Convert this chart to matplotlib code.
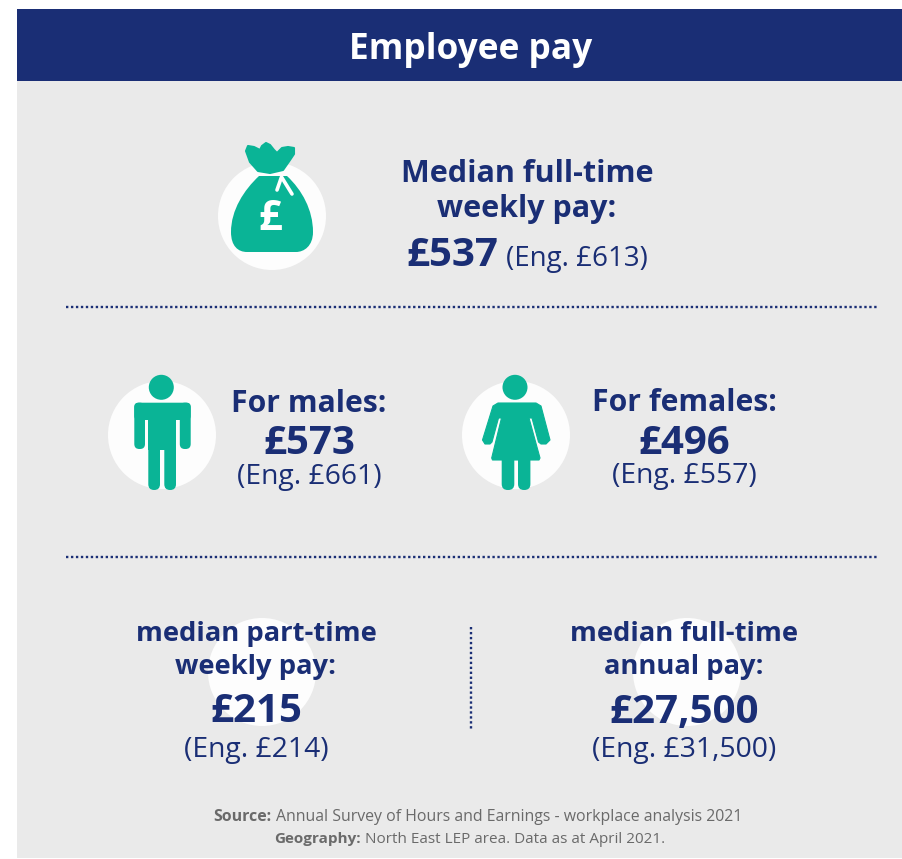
import matplotlib
matplotlib.use('Agg')
import matplotlib.pyplot as plt
from matplotlib.patches import Circle, FancyBboxPatch, PathPatch, Polygon, Rectangle
from matplotlib.path import Path

# text and values
title = 'Employee pay'
main_label = ['Median full-time', 'weekly pay:']
main_value = '£537'
main_eng = '(Eng. £613)'
male_label, male_value, male_eng = 'For males:', '£573', '(Eng. £661)'
female_label, female_value, female_eng = 'For females:', '£496', '(Eng. £557)'
pt_label = ['median part-time', 'weekly pay:']
pt_value, pt_eng = '£215', '(Eng. £214)'
ann_label = ['median full-time', 'annual pay:']
ann_value, ann_eng = '£27,500', '(Eng. £31,500)'
source_bold, source_text = 'Source:', 'Annual Survey of Hours and Earnings - workplace analysis 2021'
geo_bold, geo_text = 'Geography:', 'North East LEP area. Data as at April 2021.'

navy = '#1a2e75'
teal = '#0ab496'
bg = '#eaeaea'
grey = '#6a6a6a'

plt.rcParams['font.family'] = ['Open Sans', 'DejaVu Sans']

fig = plt.figure(figsize=(9.03, 8.59), dpi=100)
ax = fig.add_axes([0, 0, 1, 1])
ax.set_xlim(0, 903)
ax.set_ylim(859, 0)
ax.axis('off')

ax.add_patch(Rectangle((17, 9), 886, 849, fc=bg, ec='none'))
ax.add_patch(Rectangle((17, 9), 886, 72, fc=navy, ec='none'))
ax.text(471, 50, title, color='white', fontsize=25.4, fontweight='bold', ha='center', va='center')


def ctext(x, y, s, size, weight='bold', color=navy):
    ax.text(x, y, s, color=color, fontsize=size, fontweight=weight, ha='center', va='center')


def two_part(x, y, s1, s2, size1, size2, w1='bold', w2='normal', c1=navy, c2=navy, gap=8):
    # two fonts on one line, centred together round x, same baseline
    r = fig.canvas.get_renderer()
    t1 = ax.text(0, y, s1, color=c1, fontsize=size1, fontweight=w1, ha='left', va='baseline')
    t2 = ax.text(0, y, s2, color=c2, fontsize=size2, fontweight=w2, ha='left', va='baseline')
    a = t1.get_window_extent(r).width
    b = t2.get_window_extent(r).width
    left = x - (a + gap + b) / 2
    t1.set_x(left)
    t2.set_x(left + a + gap)


def bar(x0, y0, x1, y1, rad=4):
    ax.add_patch(FancyBboxPatch((x0 + rad, y0 + rad), x1 - x0 - 2 * rad, y1 - y0 - 2 * rad,
                                boxstyle='round,pad=%g,rounding_size=%g' % (rad, rad),
                                fc=teal, ec='none'))


# white discs behind the icons
for cx, cy in [(272, 216), (162, 435), (516, 435), (262, 672), (687, 672)]:
    ax.add_patch(Circle((cx, cy), 54, fc='#fdfdfd', ec='none'))

# money bag
C4, L, M = Path.CURVE4, Path.LINETO, Path.MOVETO
body = [(259, 176), (287, 176), (302, 190), (313, 210), (313, 232), (313, 246), (304, 252), (296, 252),
        (247, 252), (238, 252), (231, 246), (231, 232), (231, 210), (244, 190), (259, 176)]
body_codes = [M, L, C4, C4, C4, C4, C4, C4, L, C4, C4, C4, C4, C4, C4]
ax.add_patch(PathPatch(Path(body, body_codes), fc=teal, ec='none'))
tuft = [(246, 151), (248, 146), (254, 147), (260, 150), (262, 146), (266, 143), (270, 145), (274, 150), (277, 153),
        (282, 148), (288, 147), (294, 148), (294, 154), (290, 160), (283, 170), (270, 173), (258, 171), (250, 162)]
ax.add_patch(Polygon(tuft, closed=True, fc=teal, ec=teal, lw=1.5, joinstyle='round'))
ax.plot([277, 281.5, 292], [190, 177, 194], color='white', lw=2.6, solid_capstyle='round', solid_joinstyle='round')
ax.text(270.5, 219, '£', color='white', fontsize=30, fontweight='bold', ha='center', va='center')

# male figure
ax.add_patch(Circle((161.3, 387.3), 12.5, fc=teal, ec='none'))
bar(134.3, 402.7, 190.7, 420)
bar(134.3, 402.7, 145, 449, 5)
bar(179.8, 402.7, 190.7, 449, 5)
ax.add_patch(Rectangle((148.3, 402.7), 27.7, 47.5, fc=teal, ec='none'))
bar(148.3, 430, 160, 490, 5.8)
bar(164.3, 430, 176, 490, 5.8)

# female figure
ax.add_patch(Circle((515, 387.3), 12.5, fc=teal, ec='none'))
dress = [(498, 403), (536, 403), (541, 406), (550, 440), (546, 444), (541, 444), (538.5, 442), (532, 418), (529, 418),
         (540, 458), (539, 460), (492.5, 460), (491.7, 458), (501.5, 418), (498.5, 418), (492, 442), (490, 444),
         (485, 444), (482.5, 440), (493, 406)]
ax.add_patch(Polygon(dress, closed=True, fc=teal, ec=teal, lw=0.8, joinstyle='round'))
bar(501.7, 445, 514.3, 490, 6)
bar(518, 445, 530.4, 490, 6)

# dotted rules
for y in (306.5, 557):
    ax.plot([66, 878], [y, y], color=navy, lw=1.7, ls=(0, (1, 1.1)))
ax.plot([471, 471], [627, 729], color=navy, lw=1.7, ls=(0, (1, 1.1)))

# main block
ctext(527, 174, main_label[0], 22)
ctext(527, 209, main_label[1], 22)
two_part(527, 266, main_value, main_eng, 29, 20)

# male / female
ctext(309, 404, male_label, 21.7)
ctext(309, 444, male_value, 29)
ctext(309, 477, male_eng, 20.3, 'normal')
ctext(684, 403, female_label, 21.7)
ctext(684, 443, female_value, 29)
ctext(684, 476, female_eng, 20.3, 'normal')

# bottom pair
ctext(256, 634, pt_label[0], 19.7)
ctext(256, 667, pt_label[1], 19.7)
ctext(256, 712, pt_value, 29)
ctext(256, 750, pt_eng, 20.3, 'normal')
ctext(684, 634, ann_label[0], 19.7)
ctext(684, 667, ann_label[1], 19.7)
ctext(684, 712, ann_value, 29)
ctext(684, 750, ann_eng, 20.3, 'normal')

# footer
two_part(478, 821, source_bold, source_text, 11.4, 11.4, 'bold', 'normal', grey, grey, gap=4)
two_part(470, 843, geo_bold, geo_text, 11, 11, 'bold', 'normal', grey, grey, gap=4)

fig.savefig('out.png', dpi=100)
